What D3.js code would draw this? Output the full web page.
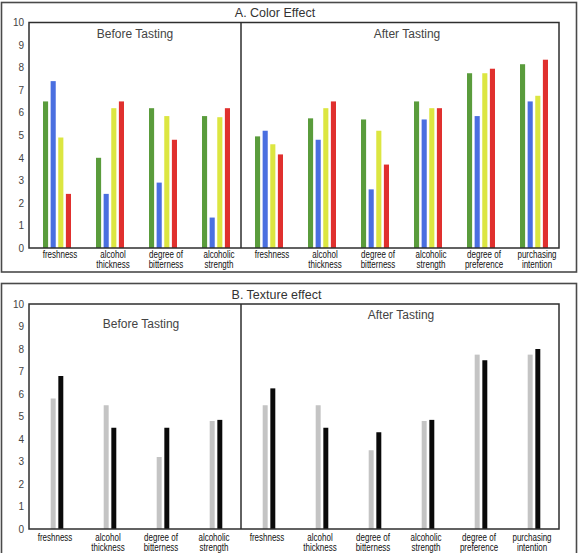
<!DOCTYPE html>
<html>
<head>
<meta charset="utf-8">
<script src="https://cdn.jsdelivr.net/npm/d3@7"></script>
<style>
  html, body { margin: 0; padding: 0; background: #fff; }
  svg { display: block; }
  text { font-family: "Liberation Sans", Arial, sans-serif; }
</style>
</head>
<body>
<svg id="chart" width="580" height="553"></svg>
<script>
// ---------- DATA ----------
const categories = [
  "freshness", "alcohol thickness", "degree of bitterness", "alcoholic strength",
  "freshness", "alcohol thickness", "degree of bitterness", "alcoholic strength",
  "degree of preference", "purchasing intention"
];
const categoryLines = [
  ["freshness"], ["alcohol", "thickness"], ["degree of", "bitterness"], ["alcoholic", "strength"],
  ["freshness"], ["alcohol", "thickness"], ["degree of", "bitterness"], ["alcoholic", "strength"],
  ["degree of", "preference"], ["purchasing", "intention"]
];
const yTicks = [0, 1, 2, 3, 4, 5, 6, 7, 8, 9, 10];

// Panel A: Color effect (4 series)
const colorGreen  = [6.5, 4.0, 6.2, 5.85, 4.95, 5.75, 5.7, 6.5, 7.75, 8.15];
const colorBlue   = [7.4, 2.4, 2.9, 1.35, 5.2, 4.8, 2.6, 5.7, 5.85, 6.5];
const colorYellow = [4.9, 6.2, 5.85, 5.8, 4.6, 6.2, 5.2, 6.2, 7.75, 6.75];
const colorRed    = [2.4, 6.5, 4.8, 6.2, 4.15, 6.5, 3.7, 6.2, 7.95, 8.35];

// Panel B: Texture effect (2 series)
const textureGray  = [5.8, 5.5, 3.2, 4.8, 5.5, 5.5, 3.5, 4.8, 7.75, 7.75];
const textureBlack = [6.8, 4.5, 4.5, 4.85, 6.25, 4.5, 4.3, 4.85, 7.5, 8.0];

const groupLabels = ["Before Tasting", "After Tasting"];

// ---------- DRAW ----------
const svg = d3.select("#chart");
const idx = d3.range(categories.length);

function panel(opts) {
  const g = svg.append("g");
  // outer border
  g.append("rect")
    .attr("x", opts.outer[0]).attr("y", opts.outer[1])
    .attr("width", opts.outer[2]).attr("height", opts.outer[3])
    .attr("fill", "none").attr("stroke", "#4a4a4a").attr("stroke-width", 1.6);

  // main title
  g.append("text")
    .attr("x", opts.titleX).attr("y", opts.titleY)
    .attr("text-anchor", "middle")
    .attr("font-size", 12.5).attr("fill", "#333")
    .text(opts.title);

  const y = d3.scaleLinear().domain([0, 10]).range([opts.bottom, opts.top]);
  const x = d3.scaleBand().domain(idx).range([opts.left + 1.5, opts.right + 1.5]);
  const xs = d3.scaleBand().domain(opts.series.map((s, i) => i))
    .range(opts.subRange).paddingInner(opts.subPad);

  // bars
  opts.series.forEach((vals, si) => {
    g.append("g").selectAll("rect")
      .data(vals)
      .join("rect")
      .attr("x", (d, i) => x(i) + x.bandwidth() / 2 + xs(si))
      .attr("width", xs.bandwidth())
      .attr("y", d => y(d))
      .attr("height", d => y(0) - y(d))
      .attr("fill", opts.colors[si]);
  });

  // frame
  g.append("rect")
    .attr("x", opts.left).attr("y", opts.top)
    .attr("width", opts.right - opts.left).attr("height", opts.bottom - opts.top)
    .attr("fill", "none").attr("stroke", "#2e2e2e").attr("stroke-width", 1.5);

  // divider between before/after
  const divX = (x(3) + x.bandwidth() + x(4)) / 2 - 1.5;
  g.append("line")
    .attr("x1", divX).attr("x2", divX)
    .attr("y1", opts.top).attr("y2", opts.bottom)
    .attr("stroke", "#2e2e2e").attr("stroke-width", 1.5);

  // y axis tick labels
  const yAxis = d3.axisLeft(y).tickValues(yTicks).tickSize(0).tickPadding(0);
  const ya = g.append("g").attr("transform", `translate(${opts.left - 5},0)`).call(yAxis);
  ya.select(".domain").remove();
  ya.selectAll("text")
    .attr("font-family", "Liberation Sans, Arial, sans-serif")
    .attr("font-size", 10).attr("fill", "#444");

  // category labels
  const lab = g.append("g").selectAll("g")
    .data(idx)
    .join("g")
    .attr("transform", i => `translate(${x(i) + x.bandwidth() / 2 + opts.labelDx},${opts.labelY}) scale(0.8,1)`);
  lab.each(function (i) {
    const t = d3.select(this);
    categoryLines[i].forEach((line, li) => {
      t.append("text")
        .attr("x", 0).attr("y", li * 10.7)
        .attr("text-anchor", "middle")
        .attr("font-size", 10).attr("fill", "#111")
        .text(line);
    });
  });

  // section labels
  opts.groupPos.forEach((p, k) => {
    g.append("text")
      .attr("x", p[0]).attr("y", p[1])
      .attr("text-anchor", "middle")
      .attr("font-size", 12).attr("fill", "#444")
      .text(groupLabels[k]);
  });
}

panel({
  outer: [1.5, 2.5, 575, 269.5],
  title: "A.  Color Effect", titleX: 275, titleY: 16.5,
  left: 29, right: 559, top: 22.5, bottom: 248,
  series: [colorGreen, colorBlue, colorYellow, colorRed],
  colors: ["#5a9c3c", "#4a6fe0", "#dce641", "#e0302e"],
  subRange: [-14, 14], subPad: 0.33,
  labelDx: 3, labelY: 257.5,
  groupPos: [[135, 37.5], [407, 37.5]]
});

panel({
  outer: [1.5, 283.5, 575, 280],
  title: "B. Texture effect", titleX: 276.5, titleY: 298.5,
  left: 29, right: 559, top: 304, bottom: 529,
  series: [textureGray, textureBlack],
  colors: ["#c4c4c4", "#0a0a0a"],
  subRange: [-6.3, 6.3], subPad: 0.35,
  labelDx: -2, labelY: 540.5,
  groupPos: [[141, 327.5], [401, 318.5]]
});
</script>
</body>
</html>
